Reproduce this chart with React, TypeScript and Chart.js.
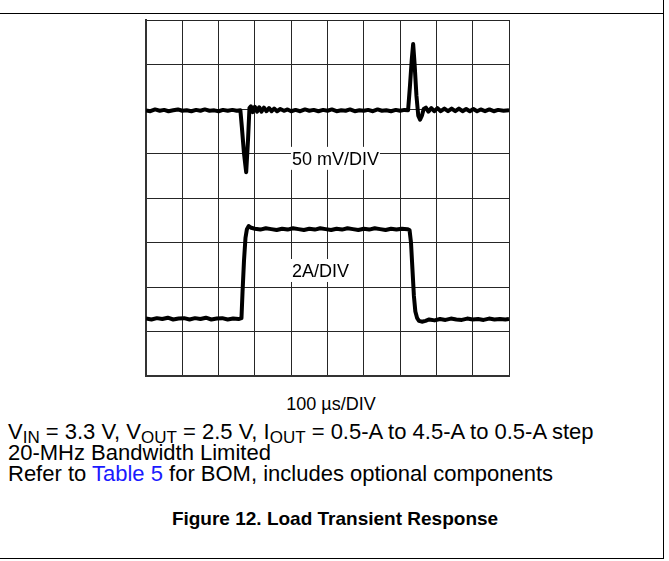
import React, { useEffect, useRef } from "react";
import { Chart, registerables } from "chart.js";

Chart.register(...registerables);

// Time axis: 100 µs per division, 10 divisions
const TIME_TICK_STEP_US = 100;
const TIME_MAX_US = 1000;
// Vertical axis in screen divisions (8 divisions)
const DIV_MAX = 8;

// Output voltage trace (50 mV/DIV), position in divisions
const VOUT_TIME_US = [
  0, 12, 25, 38, 50, 62, 75, 88, 100, 112, 125, 138, 150, 162, 175, 188, 200, 212, 225, 238, 250, 260,
  264, 270, 276, 281, 285, 289, 294, 300, 306, 312, 318, 325, 332, 339, 346, 353, 361, 370,
  380, 390, 400, 412, 425, 438, 450, 462, 475, 488, 500, 512, 525, 538, 550, 562, 575, 588, 600, 612,
  625, 638, 650, 662, 675, 688, 700, 712, 722, 727, 732, 736, 740, 745, 750, 755, 760, 765, 771,
  778, 786, 794, 803, 812, 822, 832, 842, 852, 862, 872, 882, 892, 902, 912, 922, 934, 946, 958,
  970, 985, 1000,
];
const VOUT_DIV = [
  5.97, 5.95, 5.99, 5.96, 5.98, 5.95, 5.97, 5.99, 5.96, 5.97, 5.95, 5.98, 5.96, 5.99, 5.96, 5.97, 5.95, 5.98, 5.96, 5.98, 5.96, 5.97,
  5.6, 5.0, 4.58, 5.3, 6.02, 6.06, 5.93, 6.05, 5.94, 6.04, 5.94, 6.03, 5.95, 6.02, 5.95, 6.01, 5.95, 6.0,
  5.96, 5.99, 5.95, 5.98, 5.95, 5.99, 5.96, 5.98, 5.95, 5.98, 5.96, 5.99, 5.95, 5.97, 5.96, 5.99, 5.95, 5.97, 5.96, 5.98,
  5.95, 5.99, 5.96, 5.97, 5.95, 5.98, 5.96, 5.98, 5.97, 6.5, 7.1, 7.46, 7.0, 6.3, 5.85, 5.76, 5.85, 6.0, 6.03,
  5.94, 6.02, 5.95, 6.02, 5.95, 6.01, 5.95, 6.01, 5.95, 6.01, 5.95, 6.0, 5.95, 6.0, 5.95, 5.99, 5.95, 5.99, 5.95,
  5.98, 5.96, 5.97,
];

// Output current trace (2 A/DIV), position in divisions
const IOUT_TIME_US = [
  0, 15, 30, 45, 60, 75, 90, 105, 120, 135, 150, 165, 180, 195, 210, 225, 240, 255, 263, 266, 270, 274,
  278, 283, 290, 300, 315, 330, 345, 360, 375, 390, 405, 420, 435, 450, 465, 480, 495, 510, 525, 540,
  555, 570, 585, 600, 615, 630, 645, 660, 675, 690, 705, 720, 726, 730, 734, 738, 742, 747, 752, 760,
  770, 780, 795, 810, 825, 840, 855, 870, 885, 900, 915, 930, 945, 960, 975, 990, 1000,
];
const IOUT_DIV = [
  1.29, 1.27, 1.3, 1.28, 1.31, 1.27, 1.29, 1.3, 1.27, 1.3, 1.28, 1.31, 1.27, 1.29, 1.3, 1.27, 1.29, 1.28, 1.3, 1.9, 2.6, 3.1,
  3.3, 3.37, 3.33, 3.31, 3.29, 3.32, 3.3, 3.28, 3.31, 3.29, 3.32, 3.3, 3.28, 3.31, 3.29, 3.32, 3.3, 3.28, 3.31, 3.29,
  3.32, 3.3, 3.28, 3.31, 3.29, 3.32, 3.3, 3.28, 3.31, 3.29, 3.31, 3.3, 3.28, 3.0, 2.4, 1.8, 1.45, 1.3, 1.24, 1.22,
  1.24, 1.27, 1.25, 1.28, 1.26, 1.29, 1.27, 1.26, 1.29, 1.27, 1.28, 1.26, 1.29, 1.27, 1.28, 1.27, 1.28,
];

// Scale labels written on the screen
const SCALE_LABELS = ["50 mV/DIV", "2A/DIV"];
const SCALE_LABEL_TIME_US = [402, 402];
const SCALE_LABEL_DIV = [4.88, 2.36];

const FONT = '"Liberation Sans", Arial, Helvetica, sans-serif';

const labelPlugin = {
  id: "scaleLabels",
  beforeDatasetsDraw(chart: any) {
    const ctx = chart.ctx;
    const xs = chart.scales.x;
    const ys = chart.scales.y;
    ctx.save();
    ctx.font = `18px ${FONT}`;
    ctx.textBaseline = "middle";
    ctx.textAlign = "left";
    SCALE_LABELS.forEach((txt, i) => {
      const x = xs.getPixelForValue(SCALE_LABEL_TIME_US[i]);
      const y = ys.getPixelForValue(SCALE_LABEL_DIV[i]);
      const w = ctx.measureText(txt).width;
      ctx.fillStyle = "#ffffff";
      ctx.fillRect(x - 1, y - 12, w + 2, 23);
      ctx.fillStyle = "#000000";
      ctx.fillText(txt, x, y + 1);
    });
    ctx.restore();
  },
};

function Scope() {
  const ref = useRef<HTMLCanvasElement | null>(null);
  useEffect(() => {
    if (!ref.current) return;
    const chart = new Chart(ref.current, {
      type: "line",
      data: {
        datasets: [
          {
            label: "VOUT",
            data: VOUT_TIME_US.map((t, i) => ({ x: t, y: VOUT_DIV[i] })),
            borderColor: "#000000",
            borderWidth: 4,
            pointRadius: 0,
            tension: 0,
            borderJoinStyle: "round",
          },
          {
            label: "IOUT",
            data: IOUT_TIME_US.map((t, i) => ({ x: t, y: IOUT_DIV[i] })),
            borderColor: "#000000",
            borderWidth: 4,
            pointRadius: 0,
            tension: 0,
            borderJoinStyle: "round",
          },
        ],
      },
      options: {
        animation: false,
        responsive: false,
        devicePixelRatio: 1,
        layout: { padding: 2 },
        plugins: { legend: { display: false }, tooltip: { enabled: false }, title: { display: false } },
        scales: {
          x: {
            type: "linear",
            min: 0,
            max: TIME_MAX_US,
            ticks: { display: false, stepSize: TIME_TICK_STEP_US },
            grid: { color: "#262626", lineWidth: 1, drawTicks: false },
            border: { display: true, color: "#333333", width: 2 },
          },
          y: {
            type: "linear",
            min: 0,
            max: DIV_MAX,
            ticks: { display: false, stepSize: 1 },
            grid: { color: "#262626", lineWidth: 1, drawTicks: false },
            border: { display: true, color: "#333333", width: 2 },
          },
        },
      },
      plugins: [labelPlugin],
    });
    return () => chart.destroy();
  }, []);
  return (
    <canvas
      ref={ref}
      width={367}
      height={360}
      style={{ position: "absolute", left: 144, top: 18, width: 367, height: 360 }}
    />
  );
}

export default function App() {
  const body: React.CSSProperties = {
    position: "absolute",
    left: 8,
    fontFamily: FONT,
    fontSize: 22,
    lineHeight: "21px",
    color: "#000",
    whiteSpace: "nowrap",
  };
  const sub: React.CSSProperties = { fontSize: 17, verticalAlign: "-4px", lineHeight: 0 };
  return (
    <div style={{ position: "absolute", left: 0, top: 0, width: 669, height: 561, background: "#fff", overflow: "hidden" }}>
      <div style={{ position: "absolute", left: 0, top: 13, width: 664, height: 1, background: "#000" }} />
      <div style={{ position: "absolute", left: 663, top: 0, width: 1, height: 559, background: "#000" }} />
      <div style={{ position: "absolute", left: 0, top: 558, width: 664, height: 1, background: "#000" }} />
      <Scope />
      <div
        style={{
          position: "absolute",
          left: 231,
          width: 200,
          top: 394,
          textAlign: "center",
          fontFamily: FONT,
          fontSize: 18,
          lineHeight: "20px",
        }}
      >
        100 µs/DIV
      </div>
      <div style={{ ...body, top: 421 }}>
        V<span style={sub}>IN</span> = 3.3 V, V<span style={sub}>OUT</span> = 2.5 V, I<span style={sub}>OUT</span> = 0.5-A to 4.5-A
        to 0.5-A step
      </div>
      <div style={{ ...body, top: 442 }}>20-MHz Bandwidth Limited</div>
      <div style={{ ...body, top: 463 }}>
        Refer to <span style={{ color: "#1a1aff" }}>Table 5</span> for BOM, includes optional components
      </div>
      <div
        style={{
          position: "absolute",
          left: 135,
          width: 400,
          top: 508,
          textAlign: "center",
          fontFamily: FONT,
          fontSize: 19,
          fontWeight: "bold",
          lineHeight: "22px",
        }}
      >
        Figure 12. Load Transient Response
      </div>
    </div>
  );
}
